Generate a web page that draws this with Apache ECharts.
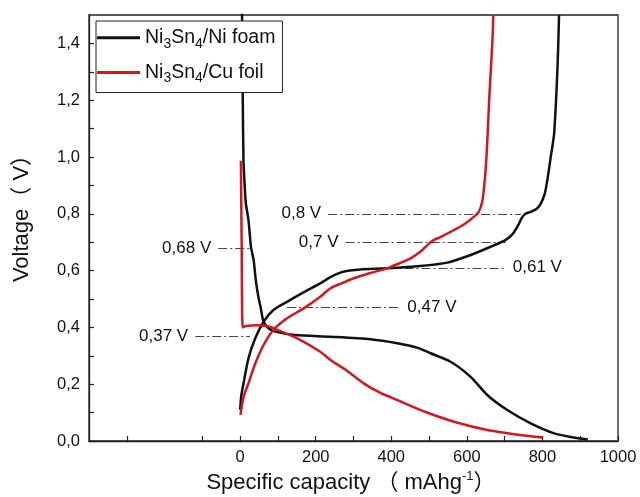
<!DOCTYPE html>
<html>
<head>
<meta charset="utf-8">
<script src="https://cdn.jsdelivr.net/npm/echarts@6/dist/echarts.min.js"></script>
<style>
  html, body { margin: 0; padding: 0; background: #ffffff; }
  #chart { width: 640px; height: 497px; }
</style>
</head>
<body>
<div id="chart"></div>
<script>
// Galvanostatic discharge / charge profiles, [capacity mAh/g, voltage V]
const niFoamDischarge = [
  [3, 1.6], [5, 1.5], [7, 1.2], [8.8, 0.99], [12, 0.9], [15, 0.838], [22, 0.778],
  [26, 0.72], [29, 0.68], [33, 0.655], [36, 0.635], [42, 0.56], [48, 0.51],
  [55, 0.465], [62, 0.42], [75, 0.397], [93, 0.385], [146, 0.373], [239, 0.367],
  [345, 0.358], [416, 0.344], [470, 0.328], [504, 0.309], [557, 0.279],
  [610, 0.226], [654, 0.162], [707, 0.109], [769, 0.062], [831, 0.027],
  [880, 0.013], [920, 0.005]
];
const niFoamCharge = [
  [0, 0.11], [3, 0.16], [9, 0.203], [22, 0.291], [40, 0.362], [62, 0.42],
  [88, 0.461], [124, 0.49], [170, 0.525], [212, 0.555], [240, 0.578],
  [265, 0.593], [290, 0.6], [318, 0.604], [389, 0.608], [477, 0.616],
  [548, 0.628], [610, 0.655], [663, 0.684], [703, 0.708], [722, 0.73],
  [736, 0.76], [745, 0.785], [755, 0.8], [769, 0.807], [785, 0.818],
  [796, 0.837], [806, 0.87], [813, 0.919], [822, 1.0], [831, 1.083],
  [840, 1.318], [844, 1.5]
];
const cuFoilDischarge = [
  [2, 0.987], [4, 0.7], [7, 0.40], [15, 0.405], [45, 0.408], [70, 0.405],
  [88, 0.397], [150, 0.362], [212, 0.314], [239, 0.285], [280, 0.25],
  [327, 0.203], [370, 0.17], [416, 0.144], [491, 0.102], [566, 0.068],
  [654, 0.039], [743, 0.021], [800, 0.012]
];
const cuFoilCharge = [
  [1, 0.092], [4, 0.12], [10, 0.16], [22, 0.203], [40, 0.273], [62, 0.338],
  [88, 0.391], [124, 0.432], [168, 0.467], [212, 0.508], [239, 0.538],
  [270, 0.556], [301, 0.573], [340, 0.59], [389, 0.608], [420, 0.625],
  [451, 0.643], [480, 0.67], [500, 0.695], [513, 0.708], [530, 0.718],
  [566, 0.743], [595, 0.765], [619, 0.79], [632, 0.808], [641, 0.845],
  [646, 0.9], [651, 0.98], [655, 1.08], [659, 1.2], [664, 1.32], [668, 1.42],
  [670, 1.5]
];

// Plateau annotations: [voltage, line start, line end, label side]
const plateauMarks = [
  [0.8, 233, 743, 'start'],
  [0.7, 279, 703, 'start'],
  [0.68, -58, 26, 'start'],
  [0.61, 345, 703, 'end'],
  [0.47, 124, 424, 'end'],
  [0.37, -119, 26, 'start']
];

const xLabelValues = [0, 200, 400, 600, 800, 1000];
const xTickValues = [-300, -100, 0, 100, 200, 300, 400, 500, 600, 700, 800, 900, 1000];
const yLabelValues = [0, 0.2, 0.4, 0.6, 0.8, 1.0, 1.2, 1.4];
const yTickValues = [0, 0.1, 0.2, 0.3, 0.4, 0.5, 0.6, 0.7, 0.8, 0.9, 1.0, 1.1, 1.2, 1.3, 1.4];

const seriesNames = ['Ni3Sn4/Ni foam', 'Ni3Sn4/Cu foil'];
const BLACK = '#111111';
const RED = '#d3161f';
const FONT = "'Liberation Sans', Arial, 'Noto Sans CJK SC', sans-serif";

const decimalComma = v => v.toFixed(2).replace(/0$/, '').replace('.', ',');

function curve(name, data, color, extra) {
  return Object.assign({
    name: name,
    type: 'line',
    data: data,
    symbol: 'none',
    smooth: 0.25,
    clip: true,
    lineStyle: { color: color, width: 2.5 },
    itemStyle: { color: color },
    z: 3
  }, extra || {});
}

const markLineData = plateauMarks.map(([v, x1, x2, side]) => [
  {
    coord: [x1, v],
    label: {
      show: true,
      position: side,
      formatter: decimalComma(v) + ' V',
      fontSize: 17,
      fontFamily: FONT,
      color: '#111',
      distance: 7
    }
  },
  { coord: [x2, v] }
]);

const chart = echarts.init(document.getElementById('chart'), null, { renderer: 'canvas' });

chart.setOption({
  backgroundColor: '#ffffff',
  animation: false,
  grid: {
    left: 89, right: 22, top: 15, bottom: 56,
    outerBoundsMode: 'none',
    containLabel: false,
    show: true,
    borderColor: '#222',
    borderWidth: 1.3,
    backgroundColor: 'transparent'
  },
  legend: {
    data: seriesNames,
    orient: 'vertical',
    left: 96,
    top: 21,
    padding: [7, 7, 7, 1],
    itemGap: 12,
    itemWidth: 43,
    itemHeight: 3,
    icon: 'rect',
    backgroundColor: '#ffffff',
    borderColor: '#222',
    borderWidth: 1,
    borderRadius: 0,
    formatter: name => '{t|' + name.replace(/(\d)/g, '}{s|$1}{t|') + '}',
    textStyle: {
      fontFamily: FONT,
      fontSize: 19.5,
      color: '#111',
      rich: {
        t: { fontFamily: FONT, fontSize: 19.5, lineHeight: 26, color: '#111' },
        s: { fontFamily: FONT, fontSize: 14, lineHeight: 14, verticalAlign: 'bottom', color: '#111' }
      }
    }
  },
  xAxis: {
    type: 'value',
    min: -400,
    max: 1000,
    interval: 100,
    name: '{t|Specific capacity （ mAhg}{sup|-1}{t|）}',
    nameLocation: 'middle',
    nameGap: 28,
    nameTextStyle: {
      padding: [0, 5, 0, 0],
      rich: {
        t: { fontFamily: FONT, fontSize: 22, lineHeight: 26, color: '#111' },
        sup: { fontFamily: FONT, fontSize: 13, lineHeight: 14, verticalAlign: 'top', color: '#111' }
      }
    },
    splitLine: { show: false },
    axisLine: { onZero: false, lineStyle: { color: '#222', width: 1.3 } },
    axisTick: {
      inside: true,
      length: 5,
      customValues: xTickValues,
      lineStyle: { color: '#222', width: 1.2 }
    },
    axisLabel: {
      customValues: xLabelValues,
      margin: 8,
      fontFamily: FONT,
      fontSize: 16.5,
      color: '#111',
      formatter: v => String(v)
    }
  },
  yAxis: {
    type: 'value',
    min: 0,
    max: 1.5,
    interval: 0.1,
    name: 'Voltage（ V）',
    nameLocation: 'middle',
    nameGap: 56,
    nameRotate: 90,
    nameTextStyle: { fontFamily: FONT, fontSize: 22, color: '#111', padding: [0, 0, 0, 30] },
    splitLine: { show: false },
    axisLine: { onZero: false, lineStyle: { color: '#222', width: 1.3 } },
    axisTick: {
      inside: true,
      length: 5,
      customValues: yTickValues,
      lineStyle: { color: '#222', width: 1.2 }
    },
    axisLabel: {
      customValues: yLabelValues,
      margin: 9,
      fontFamily: FONT,
      fontSize: 16.5,
      color: '#111',
      formatter: v => v.toFixed(1).replace('.', ',')
    }
  },
  series: [
    curve(seriesNames[0], niFoamDischarge, BLACK, {
      markLine: {
        silent: true,
        symbol: 'none',
        lineStyle: { color: '#444', width: 1, type: [9, 3, 2, 3] },
        data: markLineData,
        z: 2
      }
    }),
    curve(seriesNames[0], niFoamCharge, BLACK),
    curve(seriesNames[1], cuFoilDischarge, RED, { z: 4 }),
    curve(seriesNames[1], cuFoilCharge, RED, { z: 4 })
  ]
});
</script>
</body>
</html>
